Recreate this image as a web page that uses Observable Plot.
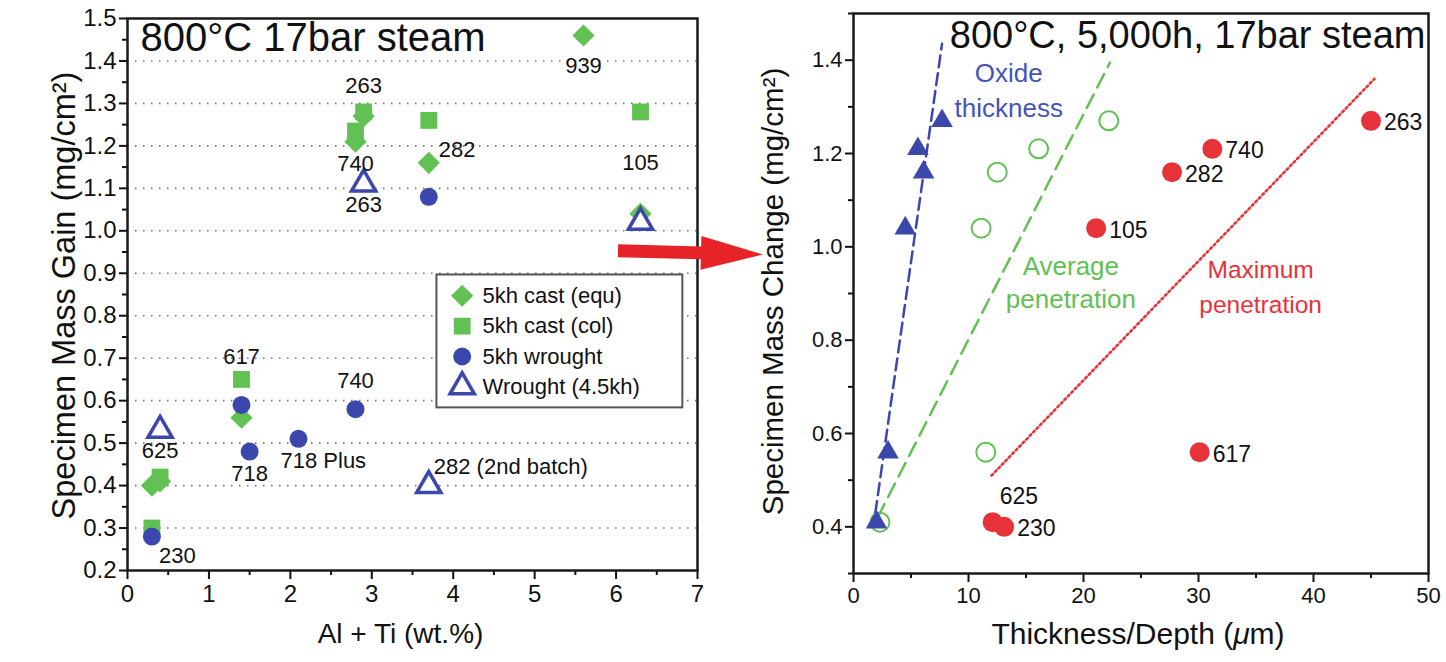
<!DOCTYPE html>
<html><head><meta charset="utf-8">
<script src="https://cdn.jsdelivr.net/npm/d3@7"></script>
<script src="https://cdn.jsdelivr.net/npm/@observablehq/plot@0.6"></script>
<style>
body{margin:0;background:#fff;}
#wrap{position:relative;width:1446px;height:662px;overflow:hidden;background:#fff;}
#left,#right{position:absolute;top:0;}
#left{left:0;z-index:2;}
#right{left:720px;z-index:1;}
svg{overflow:visible;}
</style></head><body><div id="wrap"><div id="right"></div><div id="left"></div></div>
<script>
const FONT = "'Liberation Sans', Arial, Helvetica, sans-serif";
const GREEN = "#62c153", BLUE = "#3c47ad", RED = "#e8323a";

// ---------- Left panel data ----------
const seriesNames = ["5kh cast (equ)", "5kh cast (col)", "5kh wrought", "Wrought (4.5kh)"];
const equX = [0.3, 0.4, 1.4, 2.8, 2.9, 3.7, 5.6, 6.3];
const equY = [0.40, 0.41, 0.56, 1.21, 1.27, 1.16, 1.46, 1.04];
const colX = [0.3, 0.4, 1.4, 2.8, 2.9, 3.7, 6.3];
const colY = [0.30, 0.42, 0.65, 1.235, 1.28, 1.26, 1.28];
const wroX = [0.3, 1.4, 1.5, 2.1, 2.8, 3.7];
const wroY = [0.28, 0.59, 0.48, 0.51, 0.58, 1.08];
const w45X = [0.4, 2.9, 3.7, 6.3];
const w45Y = [0.53, 1.11, 0.40, 1.02];
const leftLabels = ["939", "263", "740", "282", "105", "263", "617", "740", "625", "718", "718 Plus", "282 (2nd batch)", "230"];
const leftLabelX = [5.6, 2.9, 2.8, 3.7, 6.3, 2.9, 1.4, 2.8, 0.4, 1.5, 2.1, 3.7, 0.3];
const leftLabelY = [1.46, 1.28, 1.21, 1.16, 1.04, 1.11, 0.65, 0.58, 0.42, 0.48, 0.51, 0.40, 0.28];
const leftXTicks = [0, 1, 2, 3, 4, 5, 6, 7];
const leftYTicks = [0.2, 0.3, 0.4, 0.5, 0.6, 0.7, 0.8, 0.9, 1.0, 1.1, 1.2, 1.3, 1.4, 1.5];
const leftGrid = [0.3, 0.4, 0.5, 0.6, 0.7, 0.8, 0.9, 1.0, 1.1, 1.2, 1.3, 1.4];
// arrow between panels (left panel coordinates)
const arrowFrom = [6.03, 0.952], arrowTo = [7.81, 0.943];

// ---------- Right panel data ----------
const oxideX = [2.0, 3.0, 4.5, 5.6, 6.1, 7.7];
const oxideY = [0.41, 0.56, 1.04, 1.21, 1.16, 1.27];
const avgX = [2.3, 11.5, 11.1, 12.5, 16.1, 22.2];
const avgY = [0.41, 0.56, 1.04, 1.16, 1.21, 1.27];
const maxX = [12.1, 13.1, 30.1, 21.1, 27.7, 31.2, 45.0];
const maxY = [0.41, 0.40, 0.56, 1.04, 1.16, 1.21, 1.27];
const maxLabels = ["625", "230", "617", "105", "282", "740", "263"];
const oxideLineX = [1.9, 7.7], oxideLineY = [0.43, 1.435];
const avgLineX = [2.1, 22.3], avgLineY = [0.42, 1.395];
const maxLineX = [12.0, 45.3], maxLineY = [0.51, 1.36];
const rightXTicks = [0, 10, 20, 30, 40, 50];
const rightYTicks = [0.4, 0.6, 0.8, 1.0, 1.2, 1.4];

// ---------- layout helpers ----------
const zip = (xs, ys, extra = {}) => xs.map((x, i) => ({x, y: ys[i], i, ...Object.fromEntries(Object.entries(extra).map(([k, v]) => [k, v[i]]))}));
// label offsets (px) for left labels: [dx, dy, anchor]
const leftLabelLayout = [
  [0, 30, "middle"], [0, -26, "middle"], [0, 22, "middle"], [10, -13, "start"],
  [0, -51, "middle"], [0, 21, "middle"], [0, -22, "middle"], [0, -28, "middle"],
  [0, -26, "middle"], [0, 22, "middle"], [-18, 22, "start"], [5, -19, "start"], [7, 19, "start"]
];
const leftLabelData = leftLabels.map((t, i) => ({t, x: leftLabelX[i], y: leftLabelY[i], dx: leftLabelLayout[i][0], dy: leftLabelLayout[i][1], a: leftLabelLayout[i][2]}));
const labelMarks = ["start", "middle"].map(a => Plot.text(leftLabelData.filter(d => d.a === a), {
  x: "x", y: "y", text: "t", textAnchor: a, fontSize: 22, fill: "#111",
  render: (index, scales, values, dims, ctx, next) => {
    const g = next(index, scales, values, dims, ctx);
    const data = leftLabelData.filter(d => d.a === a);
    d3.select(g).selectAll("text").each(function(_, j) {
      const d = data[index[j]];
      const t = this.getAttribute("transform");
      this.setAttribute("transform", `${t} translate(${d.dx},${d.dy})`);
    });
    return g;
  },
  lineAnchor: "middle"
}));

// italicize the Greek mu in a text mark
const italicMu = (index, scales, values, dims, ctx, next) => {
  const g = next(index, scales, values, dims, ctx);
  d3.select(g).selectAll("text").each(function() {
    const s = this.textContent, k = s.indexOf("μ");
    if (k < 0) return;
    this.textContent = "";
    d3.select(this).append("tspan").text(s.slice(0, k));
    d3.select(this).append("tspan").attr("font-style", "italic").text("μ");
    d3.select(this).append("tspan").text(s.slice(k + 1));
  });
  return g;
};

// legend rows (left panel data units)
const legendBox = {x1: 3.8, x2: 6.82, y1: 0.583, y2: 0.896};
const legendRows = seriesNames.map((name, i) => ({name, y: 0.847 - i * 0.0715}));
const legendSym = [
  {symbol: "diamond2", fill: GREEN, stroke: "none", r: 10},
  {symbol: "square", fill: GREEN, stroke: "none", r: 9.5},
  {symbol: "circle", fill: BLUE, stroke: "none", r: 9},
  {symbol: "triangle", fill: "white", stroke: BLUE, r: 9}
];

function arrowMark() {
  return (index, scales) => {
    const x1 = scales.x(arrowFrom[0]), y1 = scales.y(arrowFrom[1]);
    const x2 = scales.x(arrowTo[0]), y2 = scales.y(arrowTo[1]);
    const L = Math.hypot(x2 - x1, y2 - y1), ux = (x2 - x1) / L, uy = (y2 - y1) / L;
    const nx = -uy, ny = ux, hw = 6.5, hl = 62, hh = 17;
    const bx = x2 - ux * hl, by = y2 - uy * hl;
    const pts = [
      [x1 + nx * hw, y1 + ny * hw], [bx + nx * hw, by + ny * hw], [bx + nx * hh, by + ny * hh],
      [x2, y2], [bx - nx * hh, by - ny * hh], [bx - nx * hw, by - ny * hw], [x1 - nx * hw, y1 - ny * hw]
    ];
    const p = document.createElementNS("http://www.w3.org/2000/svg", "path");
    p.setAttribute("d", "M" + pts.map(q => q.join(",")).join("L") + "Z");
    p.setAttribute("fill", "#e52328");
    return p;
  };
}

const left = Plot.plot({
  width: 780, height: 662,
  marginLeft: 127, marginRight: 83, marginTop: 18, marginBottom: 92,
  style: {background: "transparent", fontFamily: FONT, color: "#111", overflow: "visible"},
  x: {domain: [0, 7]},
  y: {domain: [0.2, 1.5]},
  marks: [
    Plot.ruleY(leftGrid, {stroke: "#777", strokeDasharray: "1.5,6.5", strokeWidth: 1.6}),
    Plot.axisX({ticks: leftXTicks, tickSize: 9, tickPadding: 5, fontSize: 24, tickFormat: d3.format("d"), label: null, strokeWidth: 2}),
    Plot.axisX({ticks: d3.range(0.5, 7, 1), tickSize: 5, text: null, label: null, strokeWidth: 2}),
    Plot.axisY({ticks: leftYTicks, tickSize: 8, tickPadding: 3, fontSize: 24, tickFormat: d3.format(".1f"), label: null, strokeWidth: 2}),
    Plot.axisY({ticks: d3.range(0.25, 1.5, 0.1), tickSize: 5, text: null, label: null, strokeWidth: 2}),
    Plot.text(["Al + Ti (wt.%)"], {frameAnchor: "bottom", dx: -12, dy: 72, fontSize: 28, fill: "#111"}),
    Plot.text(["Specimen Mass Gain (mg/cm²)"], {frameAnchor: "left", textAnchor: "middle", rotate: -90, dx: -63, dy: 1, fontSize: 32.5, fill: "#111"}),
    Plot.text(["800°C 17bar steam"], {frameAnchor: "top-left", dx: 13, dy: 4, fontSize: 40, fill: "#111"}),
    Plot.dot(zip(colX, colY), {x: "x", y: "y", symbol: "square", r: 9.5, fill: GREEN}),
    Plot.dot(zip(equX, equY), {x: "x", y: "y", symbol: "diamond2", r: 10, fill: GREEN}),
    Plot.dot(zip(wroX, wroY), {x: "x", y: "y", symbol: "circle", r: 9, fill: BLUE}),
    Plot.dot(zip(w45X, w45Y), {x: "x", y: "y", symbol: "triangle", r: 9, fill: "white", stroke: BLUE, strokeWidth: 3.5}),
    ...labelMarks,
    Plot.rect([legendBox], {x1: "x1", x2: "x2", y1: "y1", y2: "y2", fill: "white", stroke: "#555", strokeWidth: 2}),
    ...legendSym.map((s, i) => Plot.dot([legendRows[i]], {x: 4.11, y: "y", symbol: s.symbol, r: s.r, fill: s.fill, stroke: s.stroke, strokeWidth: 3.5})),
    Plot.text(legendRows, {x: 4.36, y: "y", text: "name", textAnchor: "start", fontSize: 22, fill: "#111"}),
    Plot.frame({stroke: "#1a1a1a", strokeWidth: 2.5}),
    arrowMark()
  ]
});
document.getElementById("left").append(left);

// ---------- Right panel ----------
const right = Plot.plot({
  width: 726, height: 662,
  marginLeft: 133, marginRight: 18, marginTop: 13, marginBottom: 89,
  style: {background: "transparent", fontFamily: FONT, color: "#111", overflow: "visible"},
  x: {domain: [0, 50]},
  y: {domain: [0.3, 1.5]},
  marks: [
    Plot.axisX({ticks: rightXTicks, tickSize: 9, tickPadding: 5, fontSize: 22, tickFormat: d3.format("d"), label: null, strokeWidth: 2}),
    Plot.axisX({ticks: d3.range(5, 50, 10), tickSize: 5, text: null, label: null, strokeWidth: 2}),
    Plot.axisY({ticks: rightYTicks, tickSize: 8, tickPadding: 3, fontSize: 22, tickFormat: d3.format(".1f"), label: null, strokeWidth: 2}),
    Plot.axisY({ticks: d3.range(0.3, 1.55, 0.2), tickSize: 5, text: null, label: null, strokeWidth: 2}),
    Plot.text(["Thickness/Depth (μm)"], {frameAnchor: "bottom", dx: -3, dy: 70, fontSize: 30, fill: "#111", render: italicMu}),
    Plot.text(["Specimen Mass Change (mg/cm²)"], {frameAnchor: "left", textAnchor: "middle", rotate: -90, dx: -80, dy: -2, fontSize: 29.5, fill: "#111"}),
    Plot.text(["800°C, 5,000h, 17bar steam"], {frameAnchor: "top-right", dx: -3, dy: 8, fontSize: 38, fill: "#111"}),
    Plot.line(zip(oxideLineX, oxideLineY), {x: "x", y: "y", stroke: BLUE, strokeWidth: 2.5, strokeDasharray: "12,6"}),
    Plot.line(zip(avgLineX, avgLineY), {x: "x", y: "y", stroke: GREEN, strokeWidth: 2.5, strokeDasharray: "15,8"}),
    Plot.line(zip(maxLineX, maxLineY), {x: "x", y: "y", stroke: RED, strokeWidth: 2.6, strokeDasharray: "2,3"}),
    Plot.dot(zip(avgX, avgY), {x: "x", y: "y", r: 9.5, stroke: GREEN, strokeWidth: 2, fill: "none"}),
    Plot.dot(zip(oxideX, oxideY), {x: "x", y: "y", symbol: "triangle", r: 8, fill: BLUE}),
    Plot.dot(zip(maxX, maxY), {x: "x", y: "y", r: 10, fill: RED}),
    Plot.text(zip(maxX, maxY, {t: maxLabels}).filter(d => d.t !== "625"), {x: "x", y: "y", text: "t", textAnchor: "start", dx: 13, dy: 2, fontSize: 23, fill: "#111"}),
    Plot.text(zip(maxX, maxY, {t: maxLabels}).filter(d => d.t === "625"), {x: "x", y: "y", text: "t", textAnchor: "start", dx: 7, dy: -26, fontSize: 23, fill: "#111"}),
    Plot.text(["Oxide", "thickness"].map((t, i) => ({t, i})), {x: 13.5, y: d => 1.37 - d.i * 0.073, text: "t", fontSize: 26, fill: "#4553b8"}),
    Plot.text(["Average", "penetration"].map((t, i) => ({t, i})), {x: 18.9, y: d => 0.958 - d.i * 0.072, text: "t", fontSize: 26, fill: GREEN}),
    Plot.text(["Maximum", "penetration"].map((t, i) => ({t, i})), {x: 35.4, y: d => 0.949 - d.i * 0.073, text: "t", fontSize: 24.5, fill: RED}),
    Plot.frame({stroke: "#1a1a1a", strokeWidth: 2.5})
  ]
});
document.getElementById("right").append(right);
</script></body></html>
